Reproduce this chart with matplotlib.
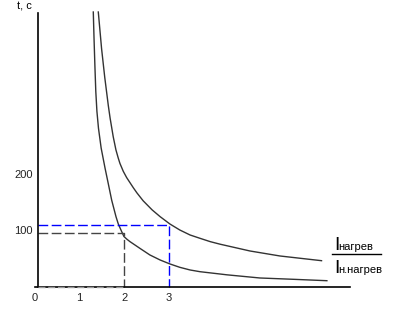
import matplotlib.pyplot as plt
from matplotlib.lines import Line2D

plt.rcParams['font.family'] = ['Liberation Sans', 'DejaVu Sans']

# -----------------------------
# data
# -----------------------------
lower_x = [1.304, 1.32, 1.34, 1.36, 1.385, 1.42, 1.48, 1.566, 1.64, 1.716, 1.812, 1.864, 1.94, 1.99, 2.06,
           2.125, 2.35, 2.57, 2.80, 3.02, 3.24, 3.47, 3.69, 4.14, 4.29, 5.03, 5.77, 6.53]
lower_y = [485, 440, 390, 345, 310, 280, 245, 210, 182, 153, 124, 111, 97.5, 89, 84,
           80, 68, 56.5, 47.6, 40.6, 34.7, 30, 27, 22.9, 21.5, 15.9, 13.6, 11.1]

upper_x = [1.416, 1.49, 1.56, 1.64, 1.68, 1.75, 1.81, 1.86, 1.90, 1.975, 2.05, 2.20, 2.28,
           2.42, 2.62, 2.80, 3.02, 3.24, 3.47, 3.69, 3.92, 4.14, 4.81, 5.48, 6.41]
upper_y = [485, 420, 370, 320, 298, 265, 242, 228, 218, 204, 193, 175, 166,
           152, 136, 124, 111, 100.5, 91.7, 85.9, 80, 75.5, 63.5, 54.7, 46.4]

x_ticks = [0, 1, 2, 3]
y_ticks = [100, 200]

gray_point = (2, 96)    # dashed gray corner
blue_point = (3, 110)   # dashed blue corner
y_axis_at = 0.07

# -----------------------------
# figure
# -----------------------------
fig = plt.figure(figsize=(4, 3.14), dpi=100)
ax = fig.add_axes([0.0875, 0.086, 0.7875, 0.8848])
ax.set_xlim(0, 7.047)
ax.set_ylim(0, 490)

ax.plot(lower_x, lower_y, color='#333333', lw=1, solid_joinstyle='round')
ax.plot(upper_x, upper_y, color='#333333', lw=1, solid_joinstyle='round')

# dashed helper lines
gx, gy = gray_point
ax.plot([y_axis_at, gx, gx], [gy, gy, 0], color='#444444', lw=1, dashes=(7, 2.5), clip_on=False)
ax.plot([y_axis_at, gx], [0, 0], color='#999999', lw=1, dashes=(5, 2), clip_on=False, zorder=3)
bx, by = blue_point
ax.plot([y_axis_at, bx, bx], [by, by, 0], color='#0000ff', lw=1, dashes=(7, 2.5), clip_on=False)

for s in ['top', 'right']:
    ax.spines[s].set_visible(False)
ax.spines['left'].set_position(('data', y_axis_at))
ax.spines['left'].set_bounds(0, 484)
for s in ['left', 'bottom']:
    ax.spines[s].set_linewidth(1.2)
    ax.spines[s].set_color('black')

ax.set_xticks(x_ticks)
ax.set_yticks(y_ticks)
ax.tick_params(length=0, labelsize=8, pad=4, colors='#222222')

# axis captions
fig.text(32 / 400, 1 - 9.5 / 314, 't, c', ha='right', va='baseline', fontsize=8)

def px(x, y):
    return x / 400, 1 - y / 314

fig.text(*px(334, 250), 'I', fontsize=14, va='baseline')
fig.text(*px(338, 250), 'нагрев', fontsize=8, va='baseline')
fig.text(*px(334, 273), 'I', fontsize=14, va='baseline')
fig.text(*px(338, 273), 'н.нагрев', fontsize=8, va='baseline')
x1, y1 = px(332, 253.5)
x2, _ = px(381, 253.5)
fig.add_artist(Line2D([x1, x2], [y1, y1], color='black', lw=1))

fig.savefig('out.png', dpi=100)
